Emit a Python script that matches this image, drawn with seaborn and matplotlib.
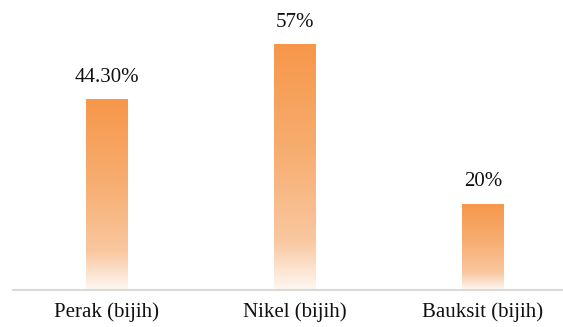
import numpy as np
import pandas as pd
import matplotlib
matplotlib.use("Agg")
import matplotlib.pyplot as plt
from matplotlib.colors import LinearSegmentedColormap
import seaborn as sns

# Mineral categories and their shares (percent)
categories = ["Perak (bijih)", "Nikel (bijih)", "Bauksit (bijih)"]
values = [44.30, 57, 20]
value_labels = ["44.30%", "57%", "20%"]

df = pd.DataFrame({"kategori": categories, "nilai": values})

sns.set_theme(style="white")
plt.rcParams["font.family"] = ["Liberation Serif", "DejaVu Serif"]

fig = plt.figure(figsize=(5.63, 3.27), dpi=100)
ax = fig.add_axes([0.023, 0.1131, 1.002, 0.9226])

sns.barplot(data=df, x="kategori", y="nilai", ax=ax, width=0.223,
            color="#F79646", saturation=1)

# Orange-to-white vertical gradient applied inside each bar
grad_cmap = LinearSegmentedColormap.from_list(
    "orange_fade",
    [(0.0, "#FDF8F3"), (0.20, "#F9C7A0"), (0.55, "#F7AE72"), (1.0, "#F6974A")])
grad = np.linspace(0, 1, 256).reshape(-1, 1)
for patch in ax.patches:
    x0, y0 = patch.get_x(), patch.get_y()
    w, h = patch.get_width(), patch.get_height()
    patch.set_facecolor("none")
    patch.set_edgecolor("none")
    im = ax.imshow(grad, cmap=grad_cmap, aspect="auto", origin="lower",
                   extent=[x0, x0 + w, y0, y0 + h], zorder=2,
                   interpolation="bilinear")
    im.set_clip_path(patch)

for patch, lab in zip(ax.patches, value_labels):
    ax.annotate(lab, (patch.get_x() + patch.get_width() / 2, patch.get_height()),
                xytext=(0, 9), textcoords="offset points",
                ha="center", va="bottom", fontsize=15, color="#111111")

ax.set_xlim(-0.5, 2.5)
ax.set_ylim(0, 70)
ax.set_xlabel("")
ax.set_ylabel("")
ax.set_yticks([])
ax.tick_params(axis="x", length=0, pad=9, labelsize=15, labelcolor="#111111")
for side in ["top", "right", "left"]:
    ax.spines[side].set_visible(False)
ax.spines["bottom"].set_color("#d9d9d9")
ax.spines["bottom"].set_linewidth(1.5)

fig.savefig("out.png", dpi=100, facecolor="white")
